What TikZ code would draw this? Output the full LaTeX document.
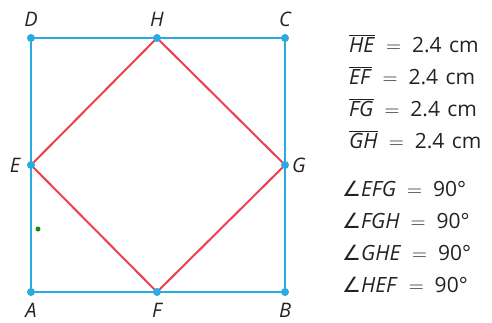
\documentclass[tikz,border=0pt]{standalone}
\usepackage{fontspec}
\setmainfont{Open Sans}
\newfontfamily\symfont{DejaVu Sans}
\definecolor{sqblue}{RGB}{41,171,226}
\definecolor{sqred}{RGB}{237,64,78}
\definecolor{dotgreen}{RGB}{20,140,20}
\definecolor{txt}{RGB}{35,35,35}
\newcommand\segm[1]{$\overline{\hbox{\itshape #1\/}}$}
\newcommand\angsym{{\symfont\char"2220}}
\newcommand\eqs{\hspace{11pt}$=$\hspace{11pt}}
\begin{document}
\begin{tikzpicture}[x=1pt,y=-1pt,
  pt/.style={circle,fill=sqblue,inner sep=0pt,minimum size=8pt},
  lbl/.style={font=\fontsize{20}{22}\selectfont\itshape,text=txt,inner sep=0pt},
  eq/.style={font=\fontsize{21}{24}\selectfont,text=txt,anchor=base west,inner sep=0pt},
  sq/.style={draw=sqblue,line width=2.4pt},
  rh/.style={draw=sqred,line width=2pt}]
\useasboundingbox (0,0) rectangle (492,322);
\coordinate (A) at (31,292);
\coordinate (B) at (285,292);
\coordinate (C) at (285,38);
\coordinate (D) at (31,38);
\coordinate (E) at (31,165);
\coordinate (F) at (157,292);
\coordinate (G) at (285,165);
\coordinate (H) at (157,38);
\draw[sq] (A) -- (B) -- (C) -- (D) -- cycle;
\draw[rh] (H) -- (E) -- (F) -- (G) -- cycle;
\foreach \p in {A,B,C,D,E,F,G,H} \node[pt] (p\p) at (\p) {};
\node[circle,fill=dotgreen,inner sep=0pt,minimum size=5pt] (gdot) at (38,229) {};
\node[lbl] (lD) at (31,19) {D};
\node[lbl] (lH) at (157,19) {H};
\node[lbl] (lC) at (285,19) {C};
\node[lbl] (lE) at (15,165) {E};
\node[lbl] (lG) at (299,165) {G};
\node[lbl] (lA) at (31,310) {A};
\node[lbl] (lF) at (157,310) {F};
\node[lbl] (lB) at (285,310) {B};
\node[eq] (t1) at (349,52) {\segm{HE}\eqs 2.4\hspace{2pt} cm};
\node[eq] (t2) at (349,84) {\segm{EF}\eqs 2.4\hspace{2pt} cm};
\node[eq] (t3) at (349,116) {\segm{FG}\eqs 2.4\hspace{2pt} cm};
\node[eq] (t4) at (349,148) {\segm{GH}\eqs 2.4\hspace{2pt} cm};
\node[eq] (a1) at (342,196) {\angsym\textit{EFG\/}\eqs 90°};
\node[eq] (a2) at (342,228) {\angsym\textit{FGH\/}\eqs 90°};
\node[eq] (a3) at (342,260) {\angsym\textit{GHE\/}\eqs 90°};
\node[eq] (a4) at (342,292) {\angsym\textit{HEF\/}\eqs 90°};
\end{tikzpicture}
\end{document}
